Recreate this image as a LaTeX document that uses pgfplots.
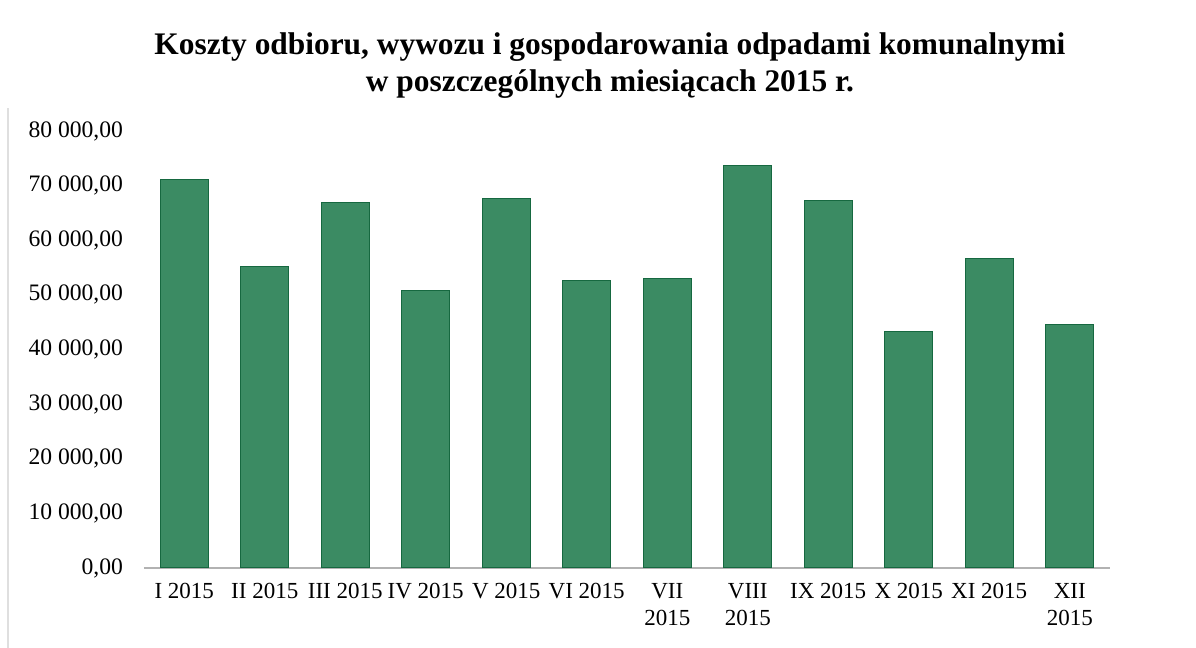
\documentclass[border=0pt]{standalone}
\usepackage{pgfplots}
\pgfplotsset{compat=1.18}
\usepackage{fontspec}
\setmainfont{Liberation Serif}
\definecolor{barfill}{RGB}{59,139,99}
\definecolor{baredge}{RGB}{22,104,64}
\begin{document}
\begin{tikzpicture}
\useasboundingbox (0,0) rectangle (598pt,324pt);
\draw[gray!25, line width=0.6pt] (4pt,0pt) -- (4pt,270pt);
\node[align=center, font=\fontsize{15.7}{18.5}\selectfont\bfseries] at (305pt,291pt)
  {Koszty odbioru, wywozu i gospodarowania odpadami komunalnymi\\w poszczególnych miesiącach 2015 r.};
\begin{axis}[
  at={(72pt,40pt)}, anchor=south west,
  scale only axis, width=483pt, height=218.5pt,
  xmin=-0.5, xmax=11.5, ymin=0, ymax=80000,
  scaled y ticks=false,
  axis x line*=bottom, axis y line*=left,
  x axis line style={draw=gray!60, line width=0.8pt, -},
  y axis line style={draw=none},
  ytick={0,10000,...,80000},
  yticklabels={{0,00},{10 000,00},{20 000,00},{30 000,00},{40 000,00},{50 000,00},{60 000,00},{70 000,00},{80 000,00}},
  xtick={0,...,11},
  xticklabels={{I 2015},{II 2015},{III 2015},{IV 2015},{V 2015},{VI 2015},{VII\\2015},{VIII\\2015},{IX 2015},{X 2015},{XI 2015},{XII\\2015}},
  major tick length=0pt,
  tick label style={font=\fontsize{11.8}{13.5}\selectfont},
  xticklabel style={align=center, anchor=north, yshift=-4pt, font=\fontsize{11.5}{13.5}\selectfont},
  yticklabel style={anchor=east, xshift=-7pt},
]
\addplot[ybar, bar width=24pt, fill=barfill, draw=baredge, line width=0.6pt]
coordinates {
(0,71060) (1,55130) (2,66850) (3,50730) (4,67580) (5,52560)
(6,52930) (7,73630) (8,67220) (9,43280) (10,56720) (11,44630)
};
\end{axis}
\end{tikzpicture}
\end{document}
